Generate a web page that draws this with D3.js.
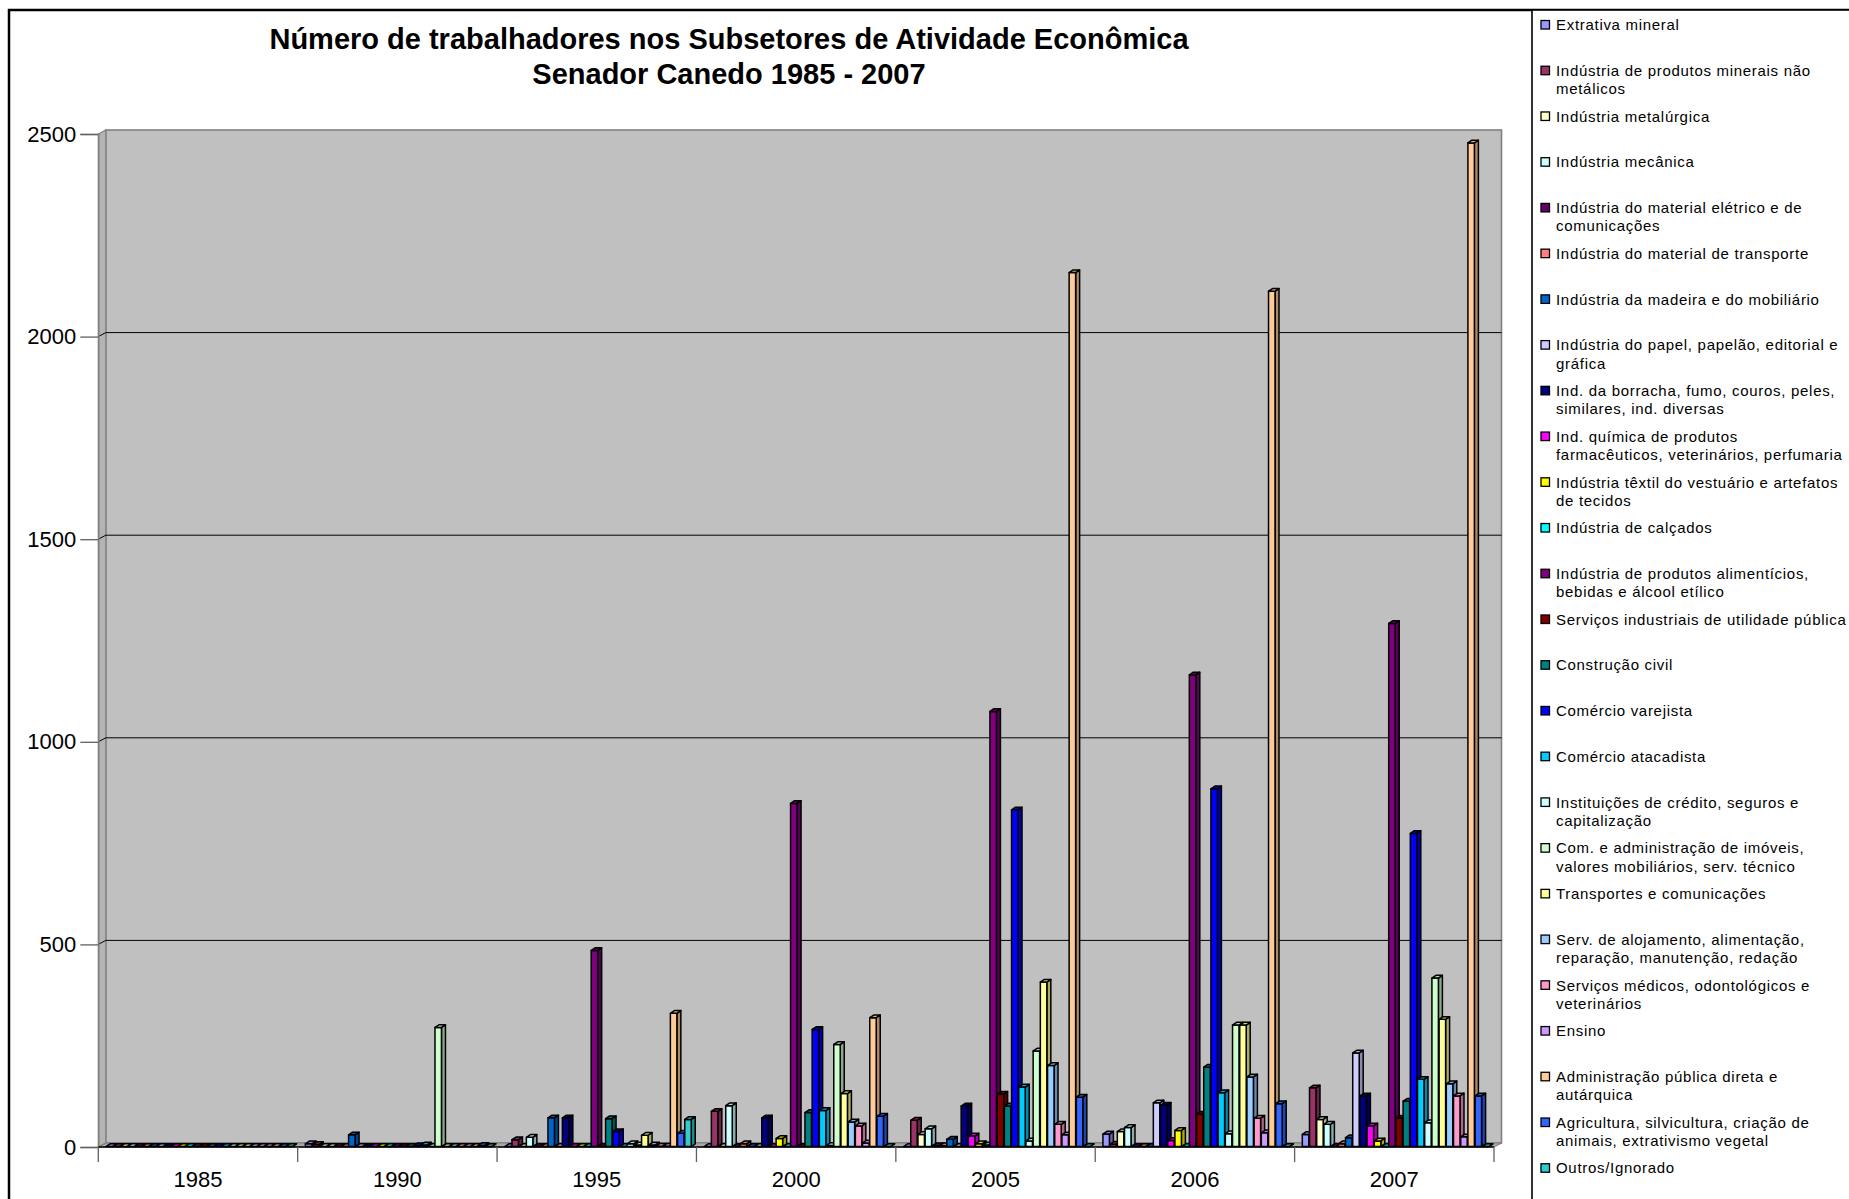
<!DOCTYPE html>
<html>
<head>
<meta charset="utf-8">
<script src="https://cdn.jsdelivr.net/npm/d3@7"></script>
<style>
  html, body { margin: 0; padding: 0; background: #fff; }
  svg { display: block; font-family: "Liberation Sans", Arial, sans-serif; }
</style>
</head>
<body>
<svg id="chart" width="1849" height="1199"></svg>
<script>
// ---- data ---------------------------------------------------------------
const years = ["1985", "1990", "1995", "2000", "2005", "2006", "2007"];

const sectors = [
  "Extrativa mineral",
  "Indústria de produtos minerais não\nmetálicos",
  "Indústria metalúrgica",
  "Indústria mecânica",
  "Indústria do material elétrico e de\ncomunicações",
  "Indústria do material de transporte",
  "Indústria da madeira e do mobiliário",
  "Indústria do papel, papelão, editorial e\ngráfica",
  "Ind. da borracha, fumo, couros, peles,\nsimilares, ind. diversas",
  "Ind. química de produtos\nfarmacêuticos, veterinários, perfumaria",
  "Indústria têxtil do vestuário e artefatos\nde tecidos",
  "Indústria de calçados",
  "Indústria de produtos alimentícios,\nbebidas e álcool etílico",
  "Serviços industriais de utilidade pública",
  "Construção civil",
  "Comércio varejista",
  "Comércio atacadista",
  "Instituições de crédito, seguros e\ncapitalização",
  "Com. e administração de imóveis,\nvalores mobiliários, serv. técnico",
  "Transportes e comunicações",
  "Serv. de alojamento, alimentação,\nreparação, manutenção, redação",
  "Serviços médicos, odontológicos e\nveterinários",
  "Ensino",
  "Administração pública direta e\nautárquica",
  "Agricultura, silvicultura, criação de\nanimais, extrativismo vegetal",
  "Outros/Ignorado"
];

const sectorColors = [
  "#9999FF", "#993366", "#FFFFCC", "#CCFFFF", "#660066", "#FF8080", "#0066CC", "#CCCCFF",
  "#000080", "#FF00FF", "#FFFF00", "#00FFFF", "#800080", "#800000", "#008080", "#0000FF",
  "#00CCFF", "#CCFFFF", "#CCFFCC", "#FFFF99", "#99CCFF", "#FF99CC", "#CC99FF", "#FFCC99",
  "#3366FF", "#33CCCC"
];

// workers per sector (rows) and year (columns: 1985 1990 1995 2000 2005 2006 2007)
const workers = [
  [0,   8,   0,   0,    0,    32,   31],
  [0,   6,   18,  88,   66,   7,    146],
  [0,   0,   0,   0,    31,   38,   68],
  [0,   0,   24,  102,  45,   48,   56],
  [0,   0,   0,   0,    3,    0,    0],
  [0,   0,   0,   8,    3,    0,    8],
  [0,   30,  72,  0,    19,   0,    23],
  [0,   0,   0,   0,    0,    109,  232],
  [0,   0,   72,  72,   101,  103,  126],
  [0,   0,   0,   0,    27,   16,   52],
  [0,   0,   0,   21,   8,    41,   15],
  [0,   0,   0,   0,    5,    0,    0],
  [0,   0,   485, 848,  1075, 1165, 1292],
  [0,   0,   0,   0,    130,  81,   71],
  [0,   0,   70,  85,   101,  197,  113],
  [0,   3,   38,  290,  832,  884,  774],
  [0,   5,   0,   90,   148,  134,  167],
  [0,   0,   8,   4,    15,   33,   60],
  [0,   295, 5,   253,  237,  301,  417],
  [0,   0,   29,  132,  407,  301,  315],
  [0,   0,   5,   62,   201,  173,  156],
  [0,   0,   2,   52,   56,   71,   126],
  [0,   0,   2,   10,   30,   35,   25],
  [0,   0,   330, 319,  2158, 2112, 2478],
  [0,   4,   34,  76,   123,  107,  126],
  [0,   0,   68,  0,    0,    0,    0]
];

const yTicks = [0, 500, 1000, 1500, 2000, 2500];

const titleLines = [
  "Número de trabalhadores nos Subsetores de Atividade Econômica",
  "Senador Canedo 1985 - 2007"
];

// ---- layout -------------------------------------------------------------
const svg = d3.select("#chart");
const plot = { left: 98.3, right: 1494, top: 134, bottom: 1147 };
const wallShift = { dx: 7.5, dy: 4 };      // depth of the back wall
const barDepth = { dx: 4, dy: 2.7 };       // depth of each column

const x = d3.scaleBand().domain(years).range([plot.left, plot.right]);
const xs = d3.scaleBand().domain(d3.range(sectors.length)).range([7.7, 7.7 + 26 * 7.2]);
const y = d3.scaleLinear().domain([0, 2500]).range([plot.bottom, plot.top]);

// chart frame
svg.append("rect")
  .attr("x", 9).attr("y", 10).attr("width", 2200).attr("height", 1600)
  .attr("fill", "#fff").attr("stroke", "#000").attr("stroke-width", 2.5);

// title
svg.append("g").selectAll("text").data(titleLines).join("text")
  .attr("x", 729).attr("y", (d, i) => 49 + i * 34.5)
  .attr("text-anchor", "middle")
  .attr("font-size", 29).attr("font-weight", "bold").attr("fill", "#000")
  .text(d => d);

// ---- 3D walls -----------------------------------------------------------
const walls = svg.append("g");
const wx0 = plot.left + wallShift.dx, wx1 = plot.right + wallShift.dx;
const wy = v => y(v) - wallShift.dy;

// back wall
walls.append("rect")
  .attr("x", wx0).attr("y", wy(2500)).attr("width", wx1 - wx0).attr("height", wy(0) - wy(2500))
  .attr("fill", "#C0C0C0").attr("stroke", "#808080").attr("stroke-width", 1.6);
// side wall
walls.append("polygon")
  .attr("points", [[plot.left, y(0)], [plot.left, y(2500)], [wx0, wy(2500)], [wx0, wy(0)]].join(" "))
  .attr("fill", "#B4B4B4").attr("stroke", "#808080").attr("stroke-width", 1.2);
// floor
walls.append("polygon")
  .attr("points", [[plot.left, y(0)], [plot.right, y(0)], [wx1, wy(0)], [wx0, wy(0)]].join(" "))
  .attr("fill", "#A8A8A8").attr("stroke", "#808080").attr("stroke-width", 1.2);

// gridlines on side and back wall
walls.selectAll("polyline.grid").data(yTicks.filter(v => v > 0 && v < 2500)).join("polyline")
  .attr("class", "grid")
  .attr("points", v => [[plot.left, y(v)], [wx0, wy(v)], [wx1, wy(v)]].join(" "))
  .attr("fill", "none").attr("stroke", "#000").attr("stroke-width", 1);

// ---- columns ------------------------------------------------------------
const bars = svg.append("g").attr("stroke", "#000").attr("stroke-width", 1.5)
  .attr("stroke-linejoin", "round");
const w = xs.bandwidth() * 0.9;

years.forEach((yr, j) => {
  sectors.forEach((s, i) => {
    const v = workers[i][j];
    const x0 = x(yr) + xs(i), x1 = x0 + w;
    const yb = y(0) - 0.5, yt = Math.min(y(v), yb);
    const c = d3.color(sectorColors[i]);
    const g = bars.append("g");
    g.append("polygon")
      .attr("points", [[x1, yb], [x1 + barDepth.dx, yb - barDepth.dy], [x1 + barDepth.dx, yt - barDepth.dy], [x1, yt]].join(" "))
      .attr("fill", c.darker(1.1));
    if (yb - yt > 0.5) {
      g.append("rect").attr("x", x0).attr("y", yt).attr("width", w).attr("height", yb - yt)
        .attr("fill", c);
    }
    g.append("polygon")
      .attr("points", [[x0, yt], [x0 + barDepth.dx, yt - barDepth.dy], [x1 + barDepth.dx, yt - barDepth.dy], [x1, yt]].join(" "))
      .attr("fill", c.darker(0.5));
  });
});

// ---- axes ---------------------------------------------------------------
const yAxis = d3.axisLeft(y).tickValues(yTicks).tickSize(18).tickPadding(4).tickFormat(d3.format("d"));
const gy = svg.append("g").attr("transform", `translate(${plot.left},0)`).call(yAxis);
gy.select(".domain").attr("stroke", "#808080").attr("stroke-width", 1.5);
gy.selectAll(".tick line").attr("stroke", "#606060").attr("stroke-width", 1.3);
gy.selectAll(".tick text").attr("font-size", 22).attr("fill", "#000")
  .attr("font-family", "'Liberation Sans', Arial, sans-serif");

// category axis: ticks at group boundaries, labels centred in each group
const xAxisG = svg.append("g");
xAxisG.append("line")
  .attr("x1", plot.left).attr("x2", plot.right).attr("y1", y(0)).attr("y2", y(0))
  .attr("stroke", "#000").attr("stroke-width", 1.5);
const bounds = years.map(d => x(d)).concat([x(years[years.length - 1]) + x.bandwidth()]);
xAxisG.selectAll("line.tick").data(bounds).join("line")
  .attr("class", "tick")
  .attr("x1", d => d).attr("x2", d => d).attr("y1", y(0)).attr("y2", y(0) + 15)
  .attr("stroke", "#606060").attr("stroke-width", 1.3);
xAxisG.selectAll("text").data(years).join("text")
  .attr("x", d => x(d) + x.bandwidth() / 2).attr("y", 1186.5)
  .attr("text-anchor", "middle").attr("font-size", 22).attr("fill", "#000")
  .text(d => d);

// ---- legend -------------------------------------------------------------
svg.append("rect")
  .attr("x", 1532).attr("y", 10).attr("width", 600).attr("height", 1600)
  .attr("fill", "#fff").attr("stroke", "#000").attr("stroke-width", 1.6);

const legend = svg.append("g");
const itemY = i => 25 + 45.73 * i;
const items = legend.selectAll("g").data(sectors).join("g")
  .attr("transform", (d, i) => `translate(0,${itemY(i)})`);
items.append("rect")
  .attr("x", 1541).attr("y", -4.5).attr("width", 8.5).attr("height", 8.5)
  .attr("fill", (d, i) => sectorColors[i]).attr("stroke", "#000").attr("stroke-width", 1.3);
items.append("text")
  .attr("x", 1556).attr("y", 5.2)
  .attr("font-size", 15).attr("letter-spacing", "0.7px").attr("fill", "#000")
  .selectAll("tspan").data(d => d.split("\n")).join("tspan")
  .attr("x", 1556).attr("dy", (d, k) => k === 0 ? 0 : 18.3)
  .text(d => d);
</script>
</body>
</html>
